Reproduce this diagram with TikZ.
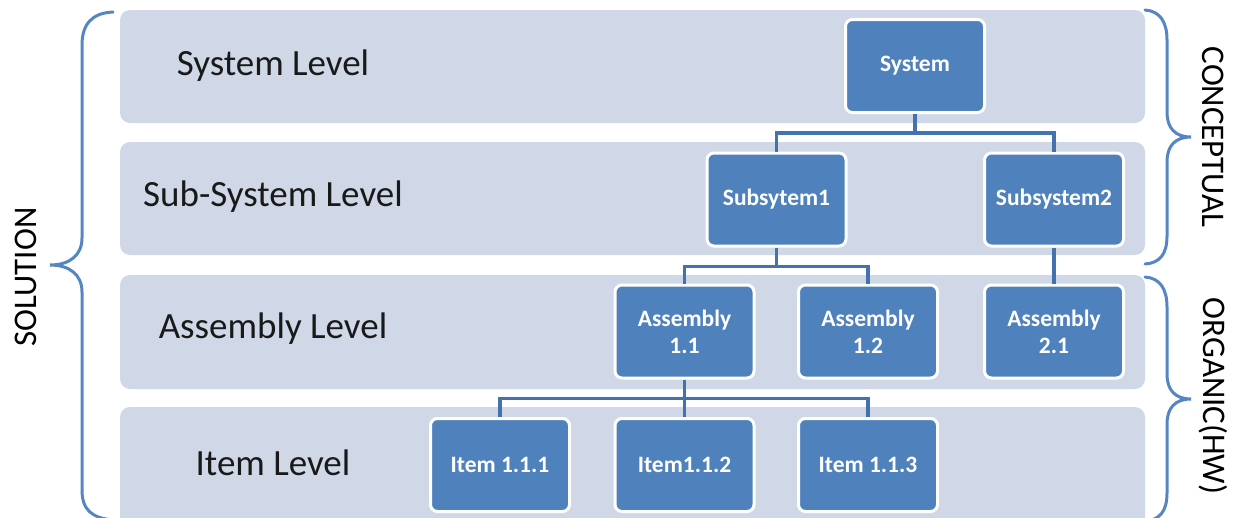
\documentclass[tikz,border=0pt]{standalone}
\usepackage{fontspec}
\setmainfont{Carlito}
\usetikzlibrary{calc}
\definecolor{bandfill}{HTML}{D0D8E8}
\definecolor{boxfill}{HTML}{4F81BD}
\definecolor{linkcol}{HTML}{4372AE}
\definecolor{bracecol}{HTML}{5585C2}
\begin{document}
\begin{tikzpicture}[x=1pt,y=-1pt,
  band/.style={fill=bandfill,draw=none,rounded corners=10pt},
  levellabel/.style={font=\fontsize{37}{40}\selectfont,text=black!90,anchor=center},
  unitbox/.style={fill=boxfill,draw=white,line width=3pt,rounded corners=7pt,
    minimum width=139pt,minimum height=93pt,inner sep=0pt,align=center,
    text=white,font=\fontsize{23.5}{27}\selectfont\bfseries},
  link/.style={draw=linkcol,line width=3.3pt},
  bracket/.style={draw=bracecol,line width=3pt,line cap=round},
  sidelabel/.style={font=\fontsize{33}{36}\selectfont,text=black,anchor=center}]
\useasboundingbox (0,0) rectangle (1242,517);
\clip (0,0) rectangle (1242,517);
% level bands
\path[band] (120,10) rectangle (1145,123);
\path[band] (120,142) rectangle (1145,255);
\path[band] (120,275) rectangle (1145,389);
\path[band] (120,407) rectangle (1145,535);
% level labels
\node[levellabel] (l1) at (273,66) {System Level};
\node[levellabel] (l2) at (273,197) {Sub-System Level};
\node[levellabel] (l3) at (273,329) {Assembly Level};
\node[levellabel] (l4) at (273,463) {Item Level};
% boxes
\node[unitbox] (sys) at (915,66) {System};
\node[unitbox] (sub1) at (776.5,199.5) {Subsytem1};
\node[unitbox] (sub2) at (1054,199.5) {Subsystem2};
\node[unitbox] (asm11) at (684.5,331.5) {Assembly\\1.1};
\node[unitbox] (asm12) at (868,331.5) {Assembly\\1.2};
\node[unitbox] (asm21) at (1054,331.5) {Assembly\\2.1};
\node[unitbox] (it1) at (500,465) {Item 1.1.1};
\node[unitbox] (it2) at (684.5,465) {Item1.1.2};
\node[unitbox] (it3) at (868,465) {Item 1.1.3};
% connectors
\draw[link] (sys.south) -- ++(0,19) -| (sub1.north);
\draw[link] (sys.south) -- ++(0,19) -| (sub2.north);
\draw[link] (sub1.south) -- ++(0,19) -| (asm11.north);
\draw[link] (sub1.south) -- ++(0,19) -| (asm12.north);
\draw[link] (sub2.south) -- (asm21.north);
\draw[link] (asm11.south) -- ++(0,19) -| (it1.north);
\draw[link] (asm11.south) -- (it2.north);
\draw[link] (asm11.south) -- ++(0,19) -| (it3.north);
% braces
\draw[bracket] (113,12) .. controls (92,13) and (82,24) .. (82,45) -- (82,238)
  .. controls (82,255) and (70,265) .. (50,265)
  .. controls (70,265) and (82,275) .. (82,292) -- (82,490)
  .. controls (82,510) and (92,518) .. (113,520);
\draw[bracket] (1145,10) .. controls (1160,11) and (1167,22) .. (1167,40) -- (1167,112)
  .. controls (1167,128) and (1175,137) .. (1191,137)
  .. controls (1175,137) and (1167,146) .. (1167,162) -- (1167,236)
  .. controls (1167,254) and (1160,263) .. (1145,264);
\draw[bracket] (1145,277) .. controls (1160,278) and (1167,289) .. (1167,307) -- (1167,374)
  .. controls (1167,390) and (1175,399) .. (1191,399)
  .. controls (1175,399) and (1167,408) .. (1167,424) -- (1167,493)
  .. controls (1167,511) and (1160,520) .. (1145,521);
% side labels
\node[sidelabel,rotate=-90] (concept) at (1213,137) {CONCEPTUAL};
\node[sidelabel,rotate=-90] (organic) at (1213,396) {ORGANIC(HW)};
\node[sidelabel,rotate=90] (solution) at (26,277) {SOLUTION};
\end{tikzpicture}
\end{document}
